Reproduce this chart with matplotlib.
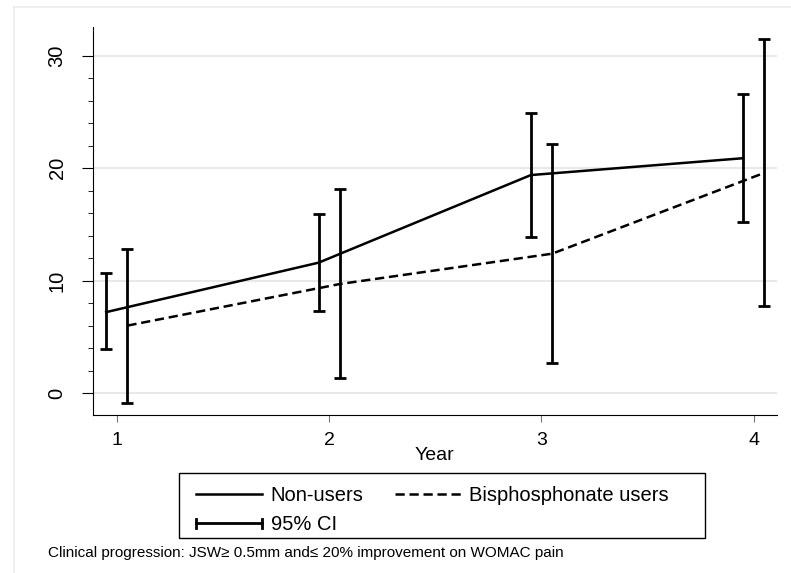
import numpy as np
import matplotlib
matplotlib.use("Agg")
import matplotlib.pyplot as plt
from matplotlib.lines import Line2D
from matplotlib.patches import Rectangle
from matplotlib.legend_handler import HandlerBase

plt.rcParams['font.family'] = ['Liberation Sans', 'DejaVu Sans']

# data
years = np.array([1, 2, 3, 4])
non_mean = [7.2, 11.6, 19.4, 20.9]
non_lo = [3.9, 7.3, 13.9, 15.2]
non_hi = [10.7, 15.9, 24.9, 26.6]
bis_mean = [6.0, 9.7, 12.4, 19.6]
bis_lo = [-0.9, 1.3, 2.7, 7.7]
bis_hi = [12.8, 18.2, 22.2, 31.5]
yticks = [0, 10, 20, 30]
note = "Clinical progression: JSW\u2265 0.5mm and\u2264 20% improvement on WOMAC pain"

shift = 0.05  # small dodge so the CIs don't overlap


class HandlerCI(HandlerBase):
    # horizontal bar with caps at both ends, like the Stata legend key
    def create_artists(self, legend, orig, xd, yd, w, h, fontsize, trans):
        y = yd + h / 2
        cap = h * 0.3
        ln = Line2D([xd, xd + w], [y, y], color="black", lw=2, transform=trans)
        c1 = Line2D([xd, xd], [y - cap, y + cap], color="black", lw=2, transform=trans)
        c2 = Line2D([xd + w, xd + w], [y - cap, y + cap], color="black", lw=2, transform=trans)
        return [ln, c1, c2]


fig = plt.figure(figsize=(7.91, 5.73), dpi=100)
ax = fig.add_axes([0.1176, 0.2757, 0.8644, 0.6772])

ax.plot(years - shift, non_mean, color="black", lw=1.8, solid_joinstyle="round")
ax.plot(years + shift, bis_mean, color="black", lw=1.8, dashes=(3.7, 1.9))

for xs, m, lo, hi in [(years - shift, non_mean, non_lo, non_hi),
                      (years + shift, bis_mean, bis_lo, bis_hi)]:
    m = np.array(m)
    ax.errorbar(xs, m, yerr=[m - np.array(lo), np.array(hi) - m], fmt="none",
                ecolor="black", elinewidth=2, capsize=4, capthick=2)

ax.set_xlim(0.888, 4.108)
ax.set_ylim(-1.96, 32.58)
ax.set_xticks(years)
ax.set_yticks(yticks)
ax.set_yticks(np.arange(0, 32, 2), minor=True)
ax.tick_params(axis="x", length=5, color="#777777", pad=7.5, labelsize=14)
ax.tick_params(axis="y", which="major", length=8, pad=11, labelsize=14.5, labelrotation=90)
ax.tick_params(axis="y", which="minor", length=3.5)
for lab in ax.get_yticklabels():
    lab.set_va("center")
ax.grid(axis="y", color="#e8e8e8", lw=1.5)
ax.set_axisbelow(True)
for s in ["top", "right"]:
    ax.spines[s].set_visible(False)
ax.set_xlabel("Year", fontsize=14, labelpad=-2)

handles = [Line2D([], [], color="black", lw=1.8),
           "ci",
           Line2D([], [], color="black", lw=1.8, dashes=(3.7, 1.9))]
labels = ["Non-users", "95% CI", "Bisphosphonate users"]
leg = fig.legend(handles, labels, ncol=2, loc="upper left",
                 bbox_to_anchor=(196 / 791, 1 - 486 / 573), handler_map={str: HandlerCI()},
                 fontsize=14.5, frameon=False,
                 handlelength=3.3, handletextpad=0.4, columnspacing=1.55,
                 borderpad=0, labelspacing=0.52, borderaxespad=0)

# legend frame, a bit wider than the entries like in the original
fig.add_artist(Rectangle((179 / 791, 1 - 538 / 573), 526 / 791, 65 / 573, fill=False,
                         edgecolor="black", lw=1, transform=fig.transFigure))

fig.text(0.0607, 0.028, note, fontsize=11, va="baseline")

# faint outer frame of the graph region
fig.add_artist(Line2D([14 / 791, 1], [1 - 7 / 573, 1 - 7 / 573], color="#ececec", lw=1.2,
                      transform=fig.transFigure))
fig.add_artist(Line2D([14 / 791, 14 / 791], [0, 1 - 7 / 573], color="#ececec", lw=1.2,
                      transform=fig.transFigure))

fig.savefig("out.png", dpi=100, facecolor="white")
